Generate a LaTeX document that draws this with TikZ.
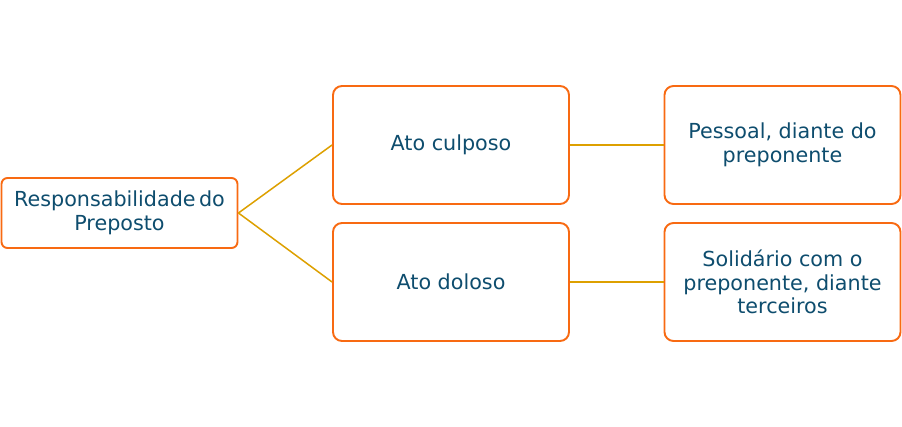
\documentclass[tikz,border=0pt]{standalone}
\usepackage{fontspec}
\setmainfont{DejaVu Sans}
\definecolor{boxorange}{HTML}{F86A12}
\definecolor{linegold}{HTML}{DDA000}
\definecolor{textblue}{HTML}{0E4D6E}
\tikzset{
  topic/.style = {shape = rectangle, draw = boxorange, line width = 1.9pt,
    rounded corners = 9pt, fill = white, text = textblue, align = center,
    font = \fontsize{20.7}{23.5}\selectfont, inner sep = 2pt,
    minimum width = 236pt, minimum height = 118pt},
  link/.style = {draw = linegold, line width = 1.5pt},
}
\begin{document}
\begin{tikzpicture}[x = 1pt, y = -1pt]
        \useasboundingbox (0, 0) rectangle (902, 427);
        % ------------------------------------------------------------------------
        % Root
        \node[topic, minimum height = 70pt, rounded corners = 6pt] at (119.5, 213) (root)
          {Responsabilidade\,do\\Preposto};

        % ------------------------------------------------------------------------
        % Acts
        \node[topic] at (451, 145) (culposo) {Ato culposo};
        \node[topic] at (451, 282) (doloso)  {Ato doloso};

        % ------------------------------------------------------------------------
        % Consequences
        \node[topic] at (782.5, 145) (pessoal)   {Pessoal, diante do\\preponente};
        \node[topic] at (782.5, 282) (solidario) {Solidário com o\\preponente, diante\\terceiros};

        \draw[link]
          (root.east) edge (culposo.west)
          (root.east) edge (doloso.west)
          (culposo)   edge (pessoal)
          (doloso)    edge (solidario)
        ;
      \end{tikzpicture}
\end{document}
